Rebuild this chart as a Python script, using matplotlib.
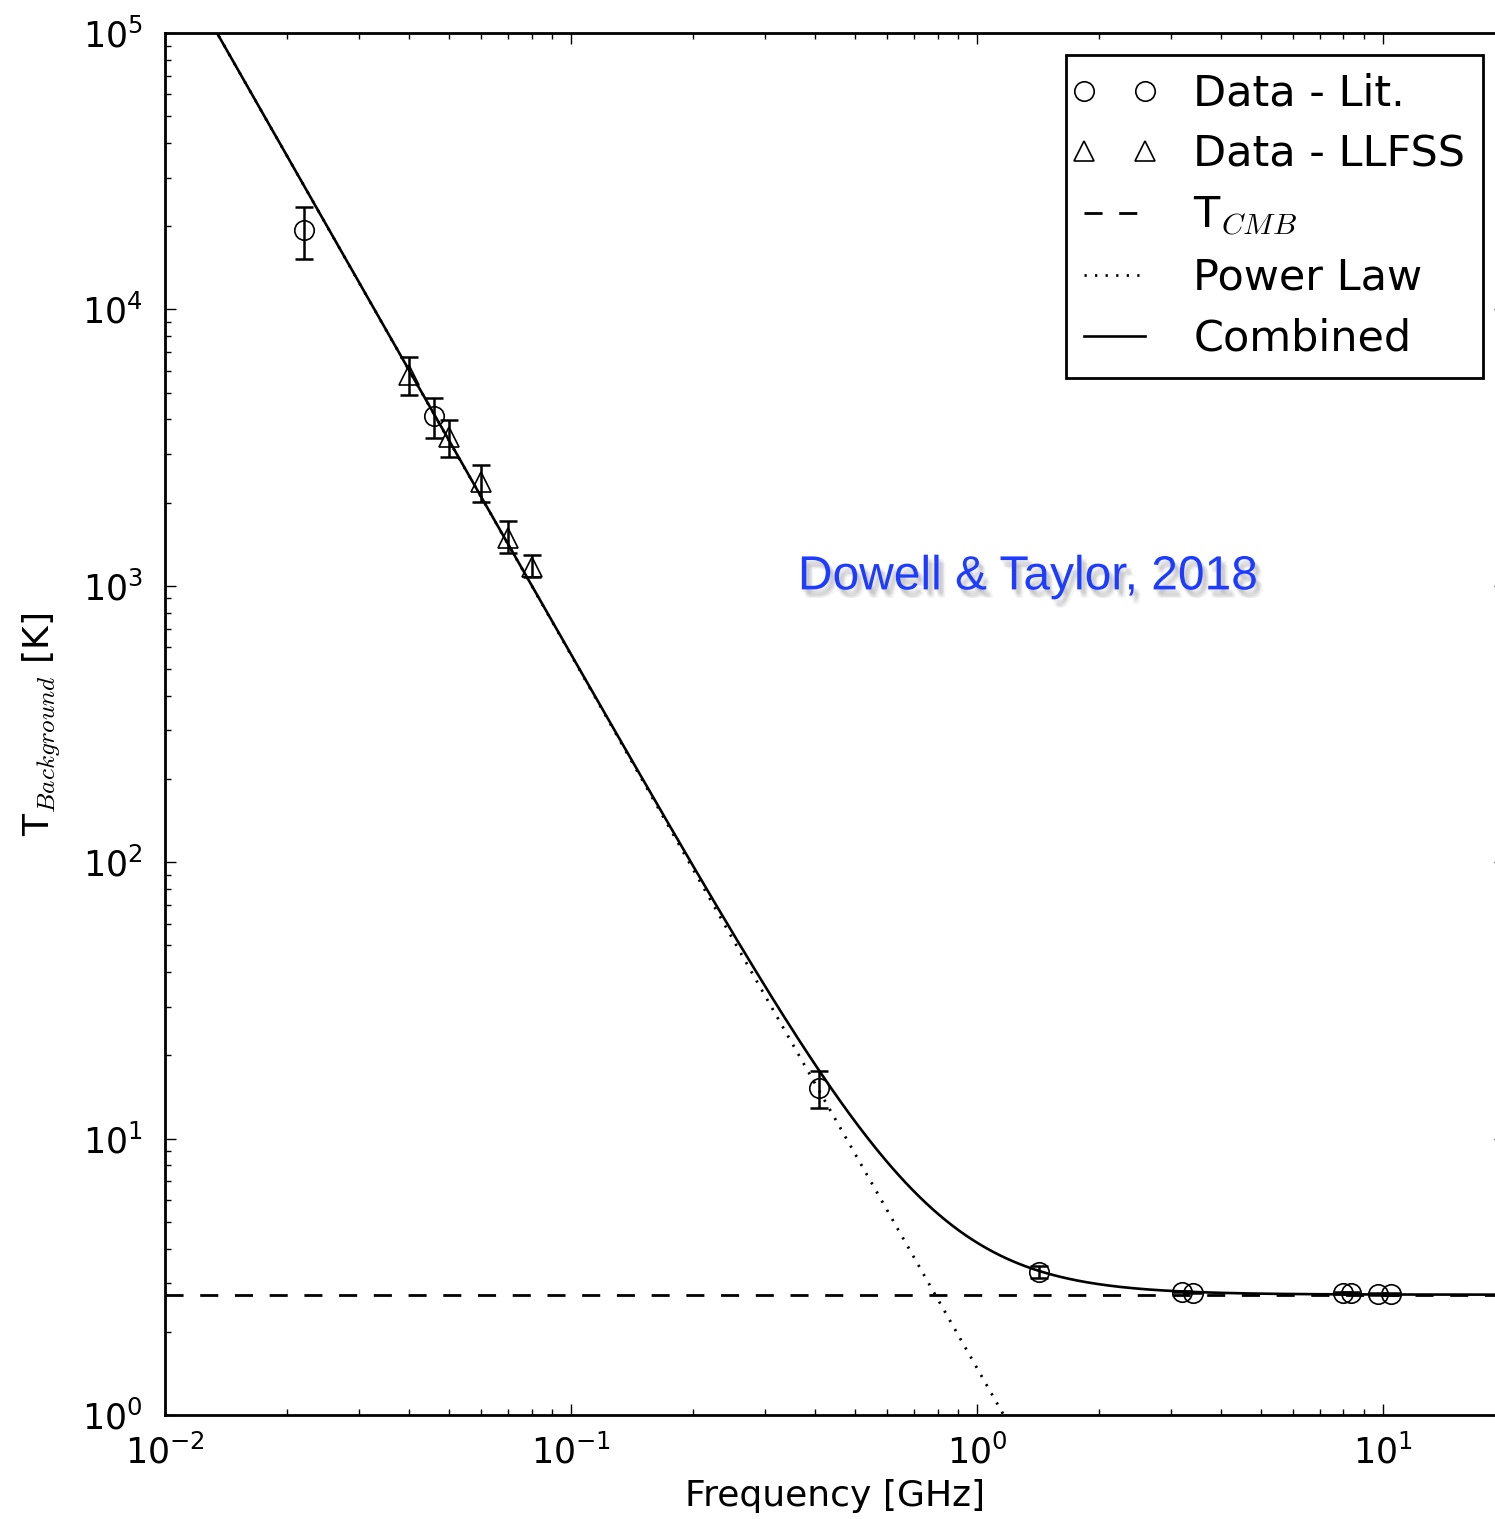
import numpy as np
import matplotlib
matplotlib.use("Agg")
import matplotlib.pyplot as plt
import matplotlib.patheffects as pe
from matplotlib.ticker import LogLocator
from matplotlib.legend_handler import HandlerLine2D

plt.rcParams['font.family'] = ['DejaVu Sans']
plt.rcParams['mathtext.fontset'] = 'cm'
plt.rcParams['font.size'] = 25

# ---- data: literature points (circles) ----
lit_freq = [0.022, 0.046, 0.408, 1.42, 3.20, 3.41, 7.97, 8.33, 9.72, 10.49]
lit_temp = [19400, 4110, 15.2, 3.29, 2.792, 2.771, 2.765, 2.759, 2.732, 2.738]
lit_err_lo = [4200, 680, 2.3, 0.17, 0.010, 0.009, 0.014, 0.016, 0.020, 0.025]
lit_err_hi = [4000, 670, 2.4, 0.17, 0.010, 0.009, 0.014, 0.016, 0.020, 0.025]

# ---- data: LLFSS points (triangles) ----
llfss_freq = [0.040, 0.050, 0.060, 0.070, 0.080]
llfss_temp = [5790, 3450, 2375, 1490, 1170]
llfss_err_lo = [890, 530, 365, 175, 93]
llfss_err_hi = [940, 530, 365, 225, 121]

# ---- model parameters (fit) ----
T_CMB = 2.725
T_REF = 30.4      # K at reference frequency
NU_REF = 0.31     # GHz
BETA = -2.58

freq_grid = np.logspace(-2, np.log10(20), 600)
power_law = T_REF * (freq_grid / NU_REF) ** BETA
combined = power_law + T_CMB

fig = plt.figure(figsize=(14.95, 15.19), dpi=100)
ax = fig.add_axes([165/1495, 104/1519, 1340/1495, 1382/1519])

ax.axhline(T_CMB, color='black', lw=2.0, linestyle=(0, (6.5, 6)), label=r'T$_{CMB}$', zorder=2)
ax.plot(freq_grid, power_law, color='black', lw=2.0, linestyle=(0, (0.8, 3.0)), label='Power Law', zorder=2)
ax.plot(freq_grid, combined, color='black', lw=1.9, label='Combined', zorder=3)

ax.errorbar(lit_freq, lit_temp, yerr=[lit_err_lo, lit_err_hi], fmt='none',
            ecolor='black', elinewidth=1.8, capsize=6.5, capthick=1.8, zorder=4)
ax.errorbar(llfss_freq, llfss_temp, yerr=[llfss_err_lo, llfss_err_hi], fmt='none',
            ecolor='black', elinewidth=1.8, capsize=6.5, capthick=1.8, zorder=4)
ax.plot(lit_freq, lit_temp, linestyle='none', marker='o', ms=14, mfc='none',
        mec='black', mew=1.2, label='Data - Lit.', zorder=5)
ax.plot(llfss_freq, llfss_temp, linestyle='none', marker='^', ms=14, mfc='none',
        mec='black', mew=1.2, label='Data - LLFSS', zorder=5)

ax.set_xscale('log')
ax.set_yscale('log')
ax.set_xlim(0.01, 20)
ax.set_ylim(1, 1e5)
ax.xaxis.set_minor_locator(LogLocator(base=10, subs=np.arange(2, 10)))
ax.yaxis.set_minor_locator(LogLocator(base=10, subs=np.arange(2, 10)))

for s in ax.spines.values():
    s.set_linewidth(2.0)
ax.tick_params(which='both', direction='in', top=True, right=True, width=1.0)
ax.tick_params(which='major', length=8)
ax.tick_params(which='minor', length=4)
ax.tick_params(axis='x', which='major', pad=14)
ax.tick_params(axis='y', which='major', pad=16)

ax.set_xlabel('Frequency [GHz]', labelpad=6, fontsize=26)
ax.set_ylabel(r'T$_{Background}$ [K]', labelpad=14, fontsize=26)

handles, labels = ax.get_legend_handles_labels()
order = ['Data - Lit.', 'Data - LLFSS', r'T$_{CMB}$', 'Power Law', 'Combined']
hmap = dict(zip(labels, handles))
leg = ax.legend([hmap[k] for k in order], order, loc='upper right', fontsize=31,
                numpoints=2, handlelength=1.42, handletextpad=1.12, labelspacing=0.44,
                borderpad=0.42,
                handler_map={h: HandlerLine2D(marker_pad=0, numpoints=2) for h in handles},
                fancybox=False, framealpha=1, edgecolor='black', borderaxespad=0.5)
leg.get_frame().set_linewidth(2.0)

shadow = [pe.SimplePatchShadow(offset=(dx, dy), shadow_rgbFace='#777777', alpha=0.07)
          for dx, dy in [(1, -2), (2, -3), (3, -4), (4, -5), (2, -5), (4, -3), (3, -6), (5, -6)]]
ax.text(1.335, 1077, 'Dowell & Taylor, 2018',
        ha='center', va='center', fontsize=34.5,
        family='Liberation Sans', color='#1e3cff',
        path_effects=shadow + [pe.Normal()])

fig.savefig('out.png', dpi=100)
